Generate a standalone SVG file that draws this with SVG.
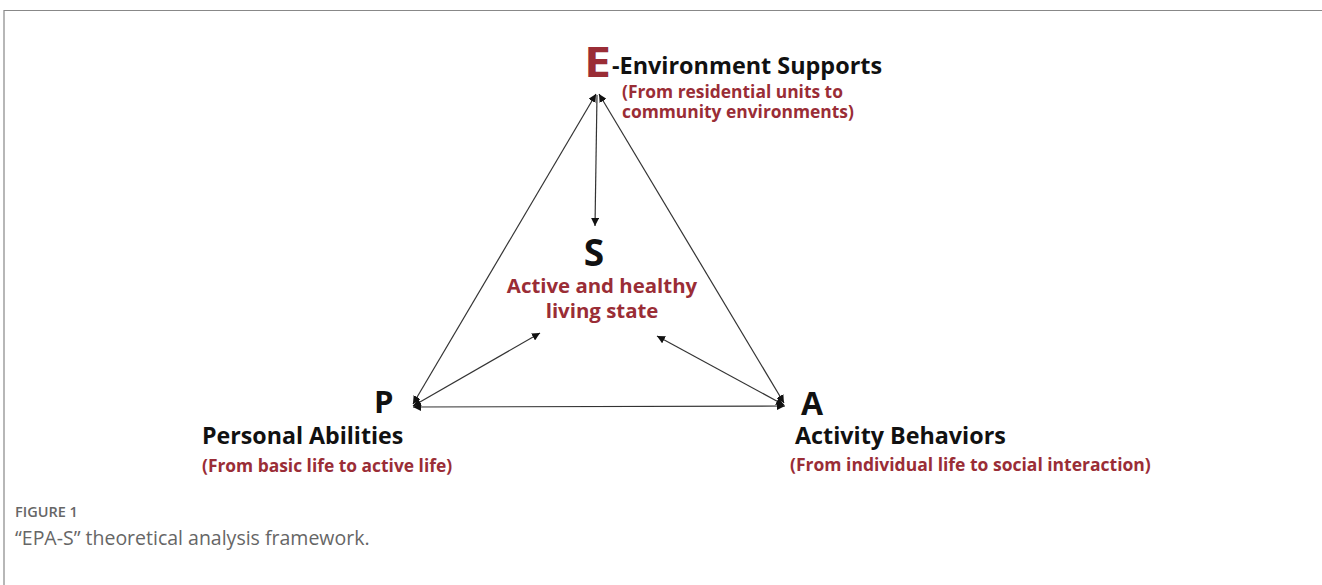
<svg xmlns="http://www.w3.org/2000/svg" width="1322" height="585" viewBox="0 0 1322 585">
<style>
.b{font-family:"Open Sans","Noto Sans","Liberation Sans",sans-serif;font-weight:700;fill:#111}
.r{font-family:"Open Sans","Noto Sans","Liberation Sans",sans-serif;font-weight:700;fill:#9a2d36}
.ln{stroke:#333;stroke-width:1.2;fill:none}
.cap{font-family:"Open Sans","Noto Sans","Liberation Sans",sans-serif;fill:#666}
</style>
<defs>
<marker id="ah" viewBox="0 0 10 10" refX="10" refY="5" markerWidth="8" markerHeight="8" markerUnits="userSpaceOnUse" orient="auto-start-reverse">
<path d="M0,0 L10,5 L0,10 z" fill="#111"/>
</marker>
</defs>
<rect x="0" y="0" width="1322" height="585" fill="#fff"/>
<path d="M4,585 V10.5 H1322" stroke="#888" stroke-width="1.2" fill="none"/>
<g id="connectors">
<line class="ln" x1="413" y1="404" x2="596" y2="94" marker-start="url(#ah)" marker-end="url(#ah)"/>
<line class="ln" x1="784" y1="403" x2="599" y2="94" marker-start="url(#ah)" marker-end="url(#ah)"/>
<line class="ln" x1="413" y1="407" x2="785" y2="406" marker-start="url(#ah)" marker-end="url(#ah)"/>
<line class="ln" x1="597" y1="95" x2="595" y2="226" marker-end="url(#ah)"/>
<line class="ln" x1="413" y1="406" x2="540" y2="333" marker-start="url(#ah)" marker-end="url(#ah)"/>
<line class="ln" x1="784" y1="405" x2="657" y2="336" marker-start="url(#ah)" marker-end="url(#ah)"/>
</g>
<g id="node-E">
<text x="584" y="77" class="r" font-size="41" textLength="27" lengthAdjust="spacingAndGlyphs">E</text>
<text x="612" y="74" class="b" font-size="23.4">-Environment Supports</text>
<text x="622" y="98" class="r" font-size="17.4">(From residential units to</text>
<text x="622" y="118" class="r" font-size="17.4">community environments)</text>
</g>
<g id="node-S">
<text x="594" y="266" class="b" font-size="37" text-anchor="middle">S</text>
<text x="602" y="293" class="r" font-size="20.4" text-anchor="middle">Active and healthy</text>
<text x="602" y="318" class="r" font-size="20.4" text-anchor="middle">living state</text>
</g>
<g id="node-P">
<text x="374" y="413" class="b" font-size="31">P</text>
<text x="202" y="444" class="b" font-size="23.2">Personal Abilities</text>
<text x="202" y="472" class="r" font-size="17.4">(From basic life to active life)</text>
</g>
<g id="node-A">
<text x="801" y="415" class="b" font-size="32">A</text>
<text x="795" y="444" class="b" font-size="23.3">Activity Behaviors</text>
<text x="790" y="471" class="r" font-size="17.5">(From individual life to social interaction)</text>
</g>
<g id="caption">
<text x="15" y="517" class="cap" font-size="14.5" font-weight="600">FIGURE 1</text>
<text x="15" y="545" class="cap" font-size="19.5" fill="#555">“EPA-S” theoretical analysis framework.</text>
</g>
</svg>
